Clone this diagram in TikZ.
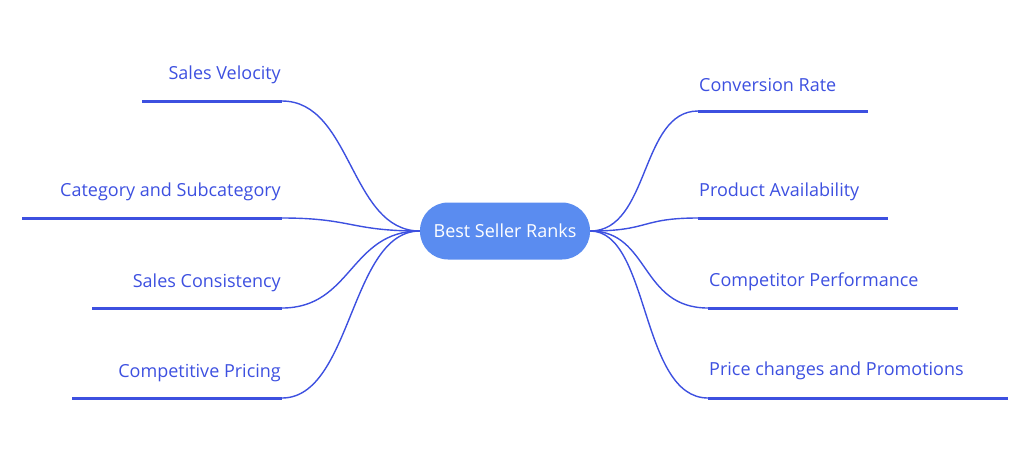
\documentclass[tikz,border=0pt]{standalone}
\usepackage{fontspec}
\setmainfont{Open Sans}
\definecolor{lc}{HTML}{3D50E0}
\definecolor{cf}{HTML}{5A8CF0}
\begin{document}
\begin{tikzpicture}[x=1pt,y=-1pt,
  lbl/.style={text=lc,font=\fontsize{18}{21}\selectfont,inner sep=0pt},
  ul/.style={draw=lc,line width=3pt},
  br/.style={draw=lc,line width=1.4pt}]
\useasboundingbox (0,0) rectangle (1024,459);
\node[fill=cf,rounded corners=28pt,minimum width=170pt,minimum height=57pt,text=white,font=\fontsize{18}{21}\selectfont] (c) at (505,231) {Best Seller Ranks};
% left
\foreach \n/\t/\xa/\y/\ty in {a/Sales Velocity/142/101/75, b/Category and Subcategory/22/218/192, d/Sales Consistency/92/308/283, e/Competitive Pricing/72/398/373}{
  \coordinate (\n s) at (\xa,\y); \coordinate (\n e) at (282,\y);
  \node[lbl,anchor=east] (\n t) at (281,\ty) {\t};
  \draw[ul] (\n s) -- (\n e);
  \draw[br] (\n e) .. controls (352,\y) and (350,231) .. (c.west);
}
% right
\foreach \n/\t/\xa/\xb/\y/\ty in {f/Conversion Rate/698/868/111/85, g/Product Availability/698/888/218/192, h/Competitor Performance/708/958/308/282, i/Price changes and Promotions/708/1008/398/371}{
  \coordinate (\n s) at (\xa,\y); \coordinate (\n e) at (\xb,\y);
  \node[lbl,anchor=west] (\n t) at (\xa+1,\ty) {\t};
  \draw[ul] (\n s) -- (\n e);
  \draw[br] (c.east) .. controls (650,231) and (640,\y) .. (\n s);
}
\end{tikzpicture}
\end{document}
